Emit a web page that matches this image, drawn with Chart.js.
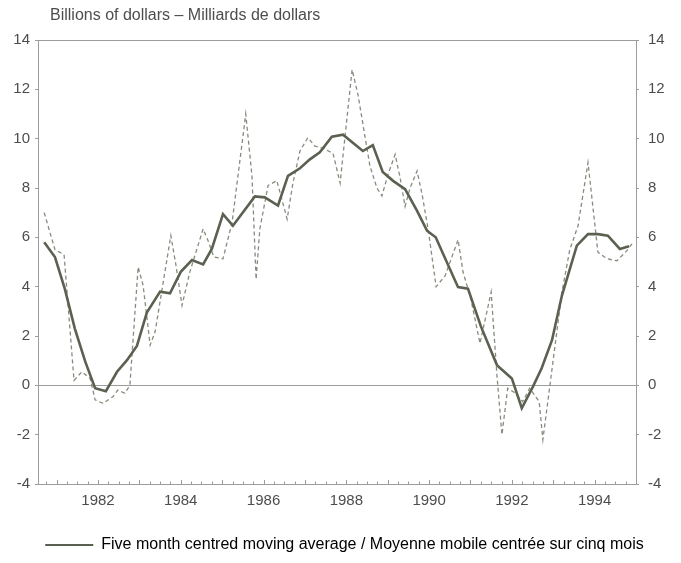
<!DOCTYPE html>
<html>
<head>
<meta charset="utf-8">
<script src="https://cdn.jsdelivr.net/npm/chart.js@4.4.1/dist/chart.umd.min.js"></script>
<style>
  html, body { margin: 0; padding: 0; background: #fff; }
  #wrap { position: relative; width: 681px; height: 563px; }
</style>
</head>
<body>
<div id="wrap"><canvas id="chart"></canvas></div>
<script>
// five month centred moving average (dates in decimal years)
const smoothDates = [1980.70, 1980.96, 1981.20, 1981.44, 1981.69, 1981.93, 1982.19, 1982.46, 1982.70, 1982.94,
  1983.18, 1983.50, 1983.74, 1984.00, 1984.27, 1984.54, 1984.75, 1985.02, 1985.26, 1985.79,
  1986.03, 1986.35, 1986.59, 1986.88, 1987.12, 1987.36, 1987.65, 1987.92, 1988.40, 1988.64,
  1988.88, 1989.13, 1989.42, 1989.71, 1989.95, 1990.16, 1990.43, 1990.70, 1990.94, 1991.25,
  1991.64, 1992.00, 1992.24, 1992.51, 1992.72, 1992.97, 1993.21, 1993.57, 1993.84, 1994.08,
  1994.32, 1994.61, 1994.83];
const smoothValues = [5.8, 5.2, 3.9, 2.3, 0.97, -0.12, -0.24, 0.55, 1.02, 1.6,
  2.95, 3.8, 3.73, 4.6, 5.08, 4.9, 5.53, 6.94, 6.47, 7.66,
  7.62, 7.29, 8.49, 8.8, 9.16, 9.45, 10.08, 10.16, 9.5, 9.74,
  8.65, 8.29, 7.95, 7.07, 6.27, 6.0, 4.99, 3.98, 3.92, 2.4,
  0.82, 0.28, -0.93, -0.05, 0.69, 1.83, 3.64, 5.66, 6.13, 6.13,
  6.07, 5.53, 5.64];

// unsmoothed series (dashed)
const rawDates = [1980.70, 1980.96, 1981.18, 1981.42, 1981.61, 1981.81, 1981.93, 1982.12, 1982.36, 1982.48,
  1982.65, 1982.77, 1982.97, 1983.09, 1983.26, 1983.38, 1983.76, 1983.88, 1984.03, 1984.22,
  1984.54, 1984.66, 1984.80, 1985.02, 1985.24, 1985.57, 1985.72, 1985.82, 1985.91, 1986.11,
  1986.32, 1986.57, 1986.71, 1986.88, 1987.07, 1987.24, 1987.46, 1987.68, 1987.85, 1988.14,
  1988.28, 1988.57, 1988.74, 1988.86, 1989.01, 1989.18, 1989.30, 1989.42, 1989.54, 1989.71,
  1989.83, 1989.98, 1990.17, 1990.39, 1990.70, 1990.82, 1991.01, 1991.23, 1991.50, 1991.64,
  1991.76, 1991.90, 1992.07, 1992.26, 1992.43, 1992.66, 1992.75, 1992.92, 1993.21, 1993.40,
  1993.60, 1993.84, 1994.00, 1994.08, 1994.30, 1994.54, 1994.78, 1994.93];
const rawValues = [7.0, 5.5, 5.3, 0.2, 0.55, 0.28, -0.59, -0.73, -0.46, -0.19,
  -0.32, 0.0, 4.8, 4.05, 1.63, 2.17, 6.07, 4.9, 3.24, 4.6,
  6.34, 5.86, 5.2, 5.13, 6.6, 11.0, 8.5, 4.3, 6.34, 8.1,
  8.3, 6.74, 8.2, 9.5, 10.04, 9.7, 9.6, 9.4, 8.2, 12.8,
  11.8, 8.9, 8.0, 7.68, 8.56, 9.36, 8.42, 7.25, 8.0, 8.69,
  7.75, 6.3, 4.0, 4.45, 5.9, 4.6, 3.5, 1.7, 3.78, 0.4,
  -2.0, -0.12, -0.3, -0.66, -0.12, -0.66, -2.2, 0.0, 3.78, 5.5,
  6.47, 9.03, 6.6, 5.4, 5.13, 5.05, 5.46, 5.8];

const yearLabels = [1982, 1984, 1986, 1988, 1990, 1992, 1994];
const yTitle = "Billions of dollars \u2013 Milliards de dollars";
const legendText = "Five month centred moving average / Moyenne mobile centr\u00e9e sur cinq mois";

const textColor = "#4d4d4d";
const axisColor = "#9c9c9c";
const solidColor = "#5b6150";
const dashColor = "#868c7c";

Chart.defaults.font.family = "'Liberation Sans', Arial, sans-serif";
Chart.defaults.color = textColor;

const toPoints = (xs, ys) => xs.map((x, i) => ({ x: x, y: ys[i] }));

// frame, minor ticks on the time axis and the unit caption
const extras = {
  id: "extras",
  beforeDatasetsDraw(chart) {
    const { ctx, chartArea: a, scales } = chart;
    ctx.save();
    ctx.strokeStyle = axisColor;
    ctx.lineWidth = 1;
    ctx.strokeRect(a.left + 0.5, a.top + 0.5, a.right - a.left, a.bottom - a.top);
    const x = scales.x;
    ctx.beginPath();
    for (let q = Math.ceil(x.min * 4) / 4; q <= x.max; q += 0.25) {
      const px = Math.round(x.getPixelForValue(q)) + 0.5;
      const len = Number.isInteger(q) ? 4 : 2.5;
      ctx.moveTo(px, a.bottom);
      ctx.lineTo(px, a.bottom - len);
    }
    ctx.stroke();
    ctx.restore();
  },
  afterDraw(chart) {
    const { ctx, chartArea: a } = chart;
    ctx.save();
    ctx.fillStyle = textColor;
    ctx.font = "16px 'Liberation Sans', Arial, sans-serif";
    ctx.textBaseline = "middle";
    ctx.fillText(yTitle, a.left + 12, 16);
    ctx.restore();
  }
};

new Chart(document.getElementById("chart"), {
  type: "line",
  data: {
    datasets: [
      {
        label: legendText,
        data: toPoints(smoothDates, smoothValues),
        borderColor: solidColor,
        backgroundColor: solidColor,
        borderWidth: 2.6,
        pointRadius: 0,
        tension: 0,
        order: 0
      },
      {
        label: "raw",
        data: toPoints(rawDates, rawValues),
        borderColor: dashColor,
        borderWidth: 1.3,
        borderDash: [4, 3],
        pointRadius: 0,
        tension: 0,
        order: 1
      }
    ]
  },
  options: {
    responsive: true,
    maintainAspectRatio: false,
    animation: false,
    layout: { padding: { top: 40, left: 8, right: 0, bottom: 0 } },
    plugins: {
      tooltip: { enabled: false },
      legend: {
        position: "bottom",
        labels: {
          boxWidth: 48,
          boxHeight: 2,
          padding: 8,
          color: textColor,
          font: { size: 16 },
          generateLabels: () => [{
            text: legendText,
            fillStyle: solidColor,
            strokeStyle: solidColor,
            lineWidth: 0,
            hidden: false,
            datasetIndex: 0
          }]
        }
      }
    },
    scales: {
      x: {
        type: "linear",
        min: 1980.55,
        max: 1995.0,
        afterBuildTicks: (scale) => { scale.ticks = yearLabels.map(v => ({ value: v })); },
        afterFit: (scale) => { scale.height = 45; },
        ticks: {
          padding: 8,
          font: { size: 15 },
          color: textColor,
          callback: (v) => String(v)
        },
        grid: { drawOnChartArea: false, drawTicks: false },
        border: { display: false }
      },
      y: {
        position: "left",
        min: -4,
        max: 14,
        afterFit: (scale) => { scale.width = 30; },
        ticks: { stepSize: 2, padding: 5, font: { size: 15 }, color: textColor },
        grid: {
          drawOnChartArea: true,
          color: (c) => (c.tick && c.tick.value === 0 ? axisColor : "rgba(0,0,0,0)"),
          tickColor: axisColor,
          tickLength: 3
        },
        border: { display: false }
      },
      y2: {
        position: "right",
        min: -4,
        max: 14,
        afterFit: (scale) => { scale.width = 45; },
        ticks: { stepSize: 2, padding: 9, font: { size: 15 }, color: textColor },
        grid: { drawOnChartArea: false, tickColor: axisColor, tickLength: 3 },
        border: { display: false }
      }
    }
  },
  plugins: [extras]
});
</script>
</body>
</html>
